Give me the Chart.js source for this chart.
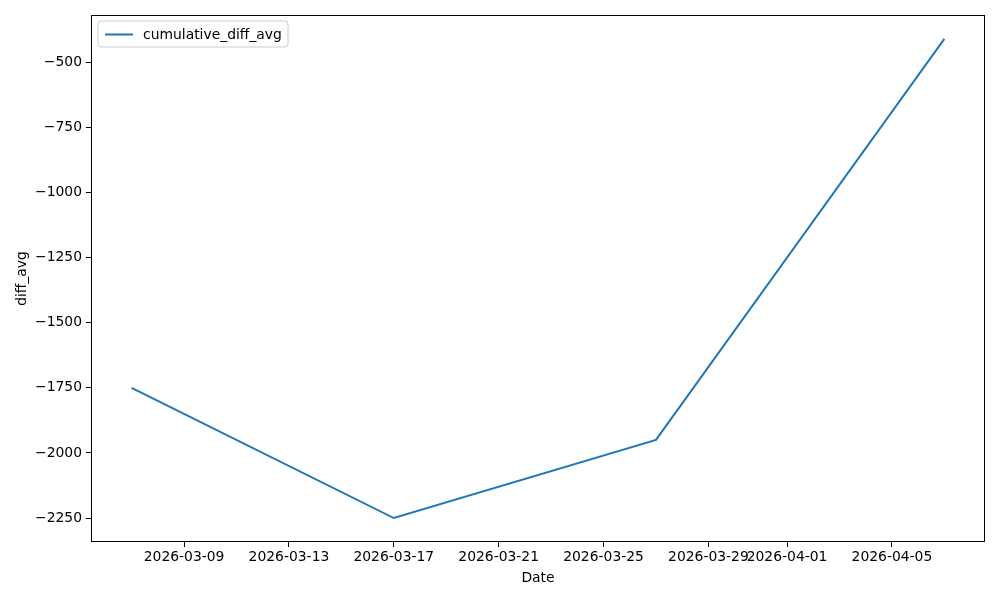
<!DOCTYPE html>
<html>
<head>
<meta charset="utf-8">
<script src="https://cdn.jsdelivr.net/npm/chart.js@4"></script>
<style>
  html, body { margin: 0; padding: 0; background: #fff; }
  #wrap { width: 1000px; height: 600px; }
</style>
</head>
<body>
<div id="wrap"><canvas id="canvas" width="1000" height="600"></canvas></div>
<script>
// data
const dates = ['2026-03-07', '2026-03-17', '2026-03-27', '2026-04-07'];
const cumulativeDiffAvg = [-1750, -2250, -1950, -410];
const xTickDates = ['2026-03-09', '2026-03-13', '2026-03-17', '2026-03-21', '2026-03-25', '2026-03-29', '2026-04-01', '2026-04-05'];
const yTicks = [-2250, -2000, -1750, -1500, -1250, -1000, -750, -500];
const seriesLabel = 'cumulative_diff_avg';

const DAY = 86400000;
const BASE = Date.UTC(2026, 2, 1);
function toDay(s) {
    return (Date.parse(s + 'T00:00:00Z') - BASE) / DAY;
}
function fromDay(d) {
    return new Date(BASE + Math.round(d) * DAY).toISOString().slice(0, 10);
}

const points = dates.map(function (d, i) { return { x: toDay(d), y: cumulativeDiffAvg[i] }; });

// matplotlib style 5% margins
const xs = points.map(p => p.x), ys = points.map(p => p.y);
const xPad = (Math.max(...xs) - Math.min(...xs)) * 0.05;
const yPad = (Math.max(...ys) - Math.min(...ys)) * 0.05;

const FONT = { family: 'DejaVu Sans', size: 13.9 };
const BLUE = '#1f77b4';

// frame + legend inside the plot
const framePlugin = {
    id: 'frame',
    afterDraw(chart) {
        const ctx = chart.ctx, a = chart.chartArea;
        ctx.save();
        ctx.strokeStyle = '#000';
        ctx.lineWidth = 1;
        ctx.strokeRect(a.left + 0.5, a.top + 0.5, a.right - a.left - 1, a.bottom - a.top - 1);

        // legend
        const x = a.left + 7, y = a.top + 6, w = 190, h = 26, r = 3;
        ctx.beginPath();
        ctx.moveTo(x + r, y);
        ctx.arcTo(x + w, y, x + w, y + h, r);
        ctx.arcTo(x + w, y + h, x, y + h, r);
        ctx.arcTo(x, y + h, x, y, r);
        ctx.arcTo(x, y, x + w, y, r);
        ctx.closePath();
        ctx.fillStyle = 'rgba(255,255,255,0.8)';
        ctx.fill();
        ctx.strokeStyle = '#cccccc';
        ctx.lineWidth = 1;
        ctx.stroke();

        ctx.beginPath();
        ctx.moveTo(x + 7, y + h / 2 + 0.5);
        ctx.lineTo(x + 35, y + h / 2 + 0.5);
        ctx.strokeStyle = BLUE;
        ctx.lineWidth = 2;
        ctx.stroke();

        ctx.fillStyle = '#000';
        ctx.font = FONT.size + 'px "DejaVu Sans"';
        ctx.textBaseline = 'middle';
        ctx.fillText(chart.data.datasets[0].label, x + 45, y + h / 2 + 1);
        ctx.restore();
    }
};

const config = {
    type: 'line',
    data: {
        datasets: [{
            label: seriesLabel,
            data: points,
            borderColor: BLUE,
            backgroundColor: BLUE,
            borderWidth: 2,
            pointRadius: 0,
            tension: 0
        }]
    },
    options: {
        responsive: false,
        animation: false,
        layout: { padding: { left: 0, top: 15, right: 15, bottom: 0 } },
        plugins: {
            legend: { display: false },
            tooltip: { enabled: false }
        },
        scales: {
            x: {
                type: 'linear',
                min: Math.min(...xs) - xPad,
                max: Math.max(...xs) + xPad,
                afterBuildTicks(scale) {
                    scale.ticks = xTickDates.map(d => ({ value: toDay(d) }));
                },
                afterFit(scale) { scale.height = 58; },
                ticks: {
                    autoSkip: false,
                    maxRotation: 0,
                    color: '#000',
                    font: FONT,
                    padding: 2,
                    callback: v => fromDay(v)
                },
                grid: { drawOnChartArea: false, drawTicks: true, tickLength: 5, color: '#000' },
                border: { display: false },
                title: { display: true, text: 'Date', color: '#000', font: FONT, padding: { top: 0, bottom: 13 } }
            },
            y: {
                type: 'linear',
                min: Math.min(...ys) - yPad,
                max: Math.max(...ys) + yPad,
                afterBuildTicks(scale) {
                    scale.ticks = yTicks.map(v => ({ value: v }));
                },
                afterFit(scale) { scale.width = 91; },
                ticks: {
                    color: '#000',
                    font: FONT,
                    padding: 4,
                    callback: v => String(v).replace('-', '\u2212')
                },
                grid: { drawOnChartArea: false, drawTicks: true, tickLength: 5, color: '#000' },
                border: { display: false },
                title: { display: true, text: 'diff_avg', color: '#000', font: FONT, padding: { top: 14, bottom: 0 } }
            }
        }
    },
    plugins: [framePlugin]
};

const canvas = document.getElementById('canvas');
const chart = new Chart(canvas, config);
</script>
</body>
</html>
